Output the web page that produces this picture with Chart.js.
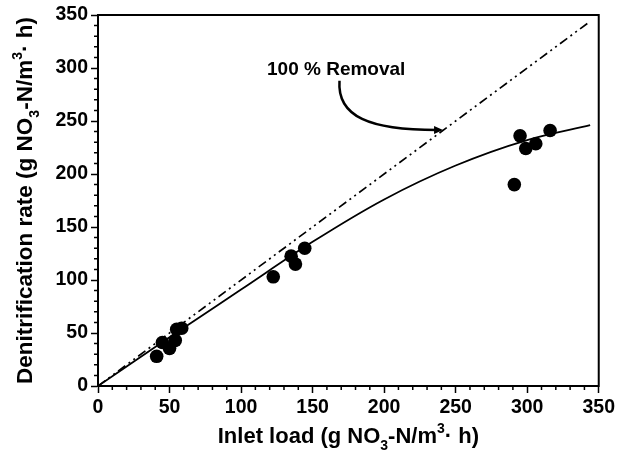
<!DOCTYPE html>
<html>
<head>
<meta charset="utf-8">
<script src="https://cdn.jsdelivr.net/npm/chart.js@4"></script>
<style>
  html, body { margin: 0; padding: 0; background: #fff; }
  #wrap { width: 618px; height: 456px; }
</style>
</head>
<body>
<div id="wrap"><canvas id="denit-chart" width="618" height="456"></canvas></div>
<script>
// measured points: inlet load vs denitrification rate
const inletLoad = [41, 45, 50, 54, 55, 58.5, 122.5, 135, 138, 144.5, 291, 295, 299, 306, 316];
const denitRate = [28, 41, 35.5, 43, 53.5, 54.5, 103, 122.5, 115, 130, 190, 236, 224, 228.5, 241];

// fitted curve
const fitX = [0, 50, 100, 150, 200, 250, 300, 344];
const fitY = [0, 46, 91, 136, 176, 208, 232, 246];

// 100 % removal line
const fullX = [0, 343];
const fullY = [0, 343];

const axisMin = 0;
const axisMax = 350;
const majorStep = 50;

const FONT = '"Liberation Sans", Arial, sans-serif';

function toPoints(xs, ys) {
    return xs.map((x, i) => ({ x: x, y: ys[i] }));
}

// draws text with sub / superscript parts, centred at (x, y) baseline
function drawRich(ctx, segs, x, y, size) {
    const small = Math.round(size * 0.64);
    let total = 0;
    segs.forEach(s => {
        ctx.font = 'bold ' + (s.sub || s.sup ? small : size) + 'px ' + FONT;
        s.w = ctx.measureText(s.t).width;
        total += s.w;
    });
    let cx = x - total / 2;
    ctx.textAlign = 'left';
    ctx.textBaseline = 'alphabetic';
    segs.forEach(s => {
        ctx.font = 'bold ' + (s.sub || s.sup ? small : size) + 'px ' + FONT;
        let dy = 0;
        if (s.sub) dy = 7;
        if (s.sup) dy = -10;
        ctx.fillText(s.t, cx, y + dy);
        cx += s.w;
    });
}

const unitSegs = [
    { t: '(g NO' }, { t: '3', sub: true }, { t: '-N/m' }, { t: '3', sup: true }, { t: '· h)' }
];

const decorPlugin = {
    id: 'decor',
    afterDraw(chart) {
        const ctx = chart.ctx;
        const area = chart.chartArea;
        const xs = chart.scales.x;
        const ys = chart.scales.y;
        ctx.save();
        ctx.fillStyle = '#000';
        ctx.strokeStyle = '#000';

        // frame
        ctx.lineWidth = 2;
        ctx.strokeRect(area.left, area.top, area.right - area.left, area.bottom - area.top);

        // minor ticks
        ctx.lineWidth = 1.5;
        ctx.beginPath();
        xs.ticks.forEach(t => {
            if (t.value % majorStep !== 0) {
                const px = xs.getPixelForValue(t.value);
                ctx.moveTo(px, area.bottom);
                ctx.lineTo(px, area.bottom + 4);
            }
        });
        ys.ticks.forEach(t => {
            if (t.value % majorStep !== 0) {
                const py = ys.getPixelForValue(t.value);
                ctx.moveTo(area.left - 4, py);
                ctx.lineTo(area.left, py);
            }
        });
        ctx.stroke();

        // axis titles
        drawRich(ctx, [{ t: 'Inlet load ' }].concat(unitSegs.map(s => Object.assign({}, s))),
            (area.left + area.right) / 2, 443, 22);
        ctx.save();
        ctx.translate(32, (area.top + area.bottom) / 2);
        ctx.rotate(-Math.PI / 2);
        drawRich(ctx, [{ t: 'Denitrification rate ' }].concat(unitSegs.map(s => Object.assign({}, s))),
            0, 0, 22.5);
        ctx.restore();

        // annotation text + arrow
        ctx.font = 'bold 19px ' + FONT;
        ctx.textAlign = 'center';
        ctx.textBaseline = 'middle';
        ctx.fillText('100 % Removal', xs.getPixelForValue(166.5), ys.getPixelForValue(298.5));

        const p0 = [xs.getPixelForValue(168.8), ys.getPixelForValue(288)];
        const c1 = [xs.getPixelForValue(167), ys.getPixelForValue(254)];
        const c2 = [xs.getPixelForValue(190), ys.getPixelForValue(241.5)];
        const p3 = [xs.getPixelForValue(237), ys.getPixelForValue(241.5)];
        ctx.lineWidth = 2.5;
        ctx.beginPath();
        ctx.moveTo(p0[0], p0[1]);
        ctx.bezierCurveTo(c1[0], c1[1], c2[0], c2[1], p3[0], p3[1]);
        ctx.stroke();
        ctx.beginPath();
        ctx.moveTo(p3[0] + 6, p3[1]);
        ctx.lineTo(p3[0] - 3, p3[1] - 4);
        ctx.lineTo(p3[0] - 3, p3[1] + 4);
        ctx.closePath();
        ctx.fill();
        ctx.restore();
    }
};

function axisOptions(fitFn, tickPad) {
    return {
        type: 'linear',
        min: axisMin,
        max: axisMax,
        afterFit: fitFn,
        ticks: {
            stepSize: 10,
            autoSkip: false,
            maxRotation: 0,
            padding: tickPad,
            color: '#000',
            font: { family: FONT, size: 19.5, weight: 'bold' },
            callback: v => (v % majorStep === 0 ? v : '')
        },
        grid: {
            drawOnChartArea: false,
            drawTicks: true,
            tickLength: 7,
            tickWidth: 1.5,
            tickColor: c => (c.tick && c.tick.value % majorStep === 0 ? '#000' : 'rgba(0,0,0,0)')
        },
        border: { display: true, color: '#000', width: 2 }
    };
}

const chartData = {
    datasets: [{
        label: 'Measured',
        data: toPoints(inletLoad, denitRate),
        showLine: false,
        pointRadius: 6.8,
        pointBackgroundColor: '#000',
        pointBorderColor: '#000',
        pointBorderWidth: 0
    }, {
        label: 'Fit',
        data: toPoints(fitX, fitY),
        showLine: true,
        pointRadius: 0,
        borderColor: '#000',
        borderWidth: 1.8,
        tension: 0.4,
        cubicInterpolationMode: 'monotone'
    }, {
        label: '100 % Removal',
        data: toPoints(fullX, fullY),
        showLine: true,
        pointRadius: 0,
        borderColor: '#000',
        borderWidth: 1.7,
        borderDash: [9, 4, 2, 4, 2, 4]
    }]
};

const config = {
    type: 'scatter',
    data: chartData,
    options: {
        responsive: false,
        animation: false,
        layout: { padding: { left: 0, top: 15, right: 18, bottom: 0 } },
        plugins: {
            legend: { display: false },
            tooltip: { enabled: false }
        },
        scales: {
            x: axisOptions(s => { s.height = 70; }, 3),
            y: axisOptions(s => { s.width = 98; }, 3)
        }
    },
    plugins: [decorPlugin]
};

new Chart(document.getElementById('denit-chart'), config);
</script>
</body>
</html>
